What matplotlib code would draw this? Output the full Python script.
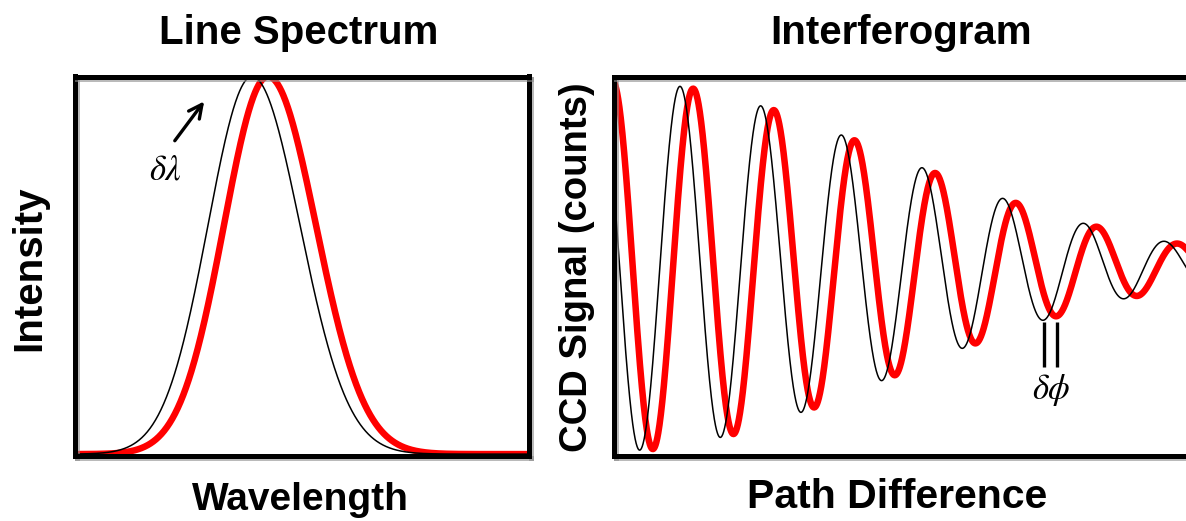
import numpy as np
import matplotlib.pyplot as plt
import matplotlib.patheffects as pe

plt.rcParams['font.family'] = ['Liberation Sans', 'DejaVu Sans']
plt.rcParams['mathtext.fontset'] = 'stix'

# line spectrum (arb. wavelength units, 0-100 across the box)
line_center = [39.05, 42.57]      # reference line, shifted line
line_width_blue = [9.68, 9.68]    # gaussian sigma on short-wavelength side
line_width_red = [10.56, 10.56]   # gaussian sigma on long-wavelength side

# interferogram (path difference in fringes)
fringe_offset = [-0.182, -0.019]  # position of first maximum
env_center = -0.012
env_sigma = 3.40

colors = ['black', 'red']
widths = [1.1, 4.7]

W, H = 1186, 521
fig = plt.figure(figsize=(W / 100, H / 100), dpi=100)

frame_fx = [pe.SimpleLineShadow(offset=(1.5, -1.5), shadow_color='0.55', alpha=0.6), pe.Normal()]


def setup(ax):
    ax.set_xticks([])
    ax.set_yticks([])
    for sp in ax.spines.values():
        sp.set_linewidth(3.6)
        sp.set_path_effects(frame_fx)


# --- left: line spectrum ---
ax1 = fig.add_axes([74.5 / W, 65 / H, 454.5 / W, 379.5 / H])
wl = np.linspace(0, 100, 1000)
# red drawn first so the thin black line sits on top
for i in [1, 0]:
    d = wl - line_center[i]
    s = np.where(d < 0, line_width_blue[i], line_width_red[i])
    inten = np.exp(-0.5 * (d / s) ** 2)
    ax1.plot(wl, inten, color=colors[i], lw=widths[i], solid_capstyle='butt')
ax1.set_xlim(0, 100)
ax1.set_ylim(-0.005, 1.0)
setup(ax1)

ax1.annotate('', xy=(28.9, 0.94), xytext=(21.7, 0.824),
             arrowprops=dict(arrowstyle='->', lw=2.4, color='black', mutation_scale=24))
ax1.text(20.0, 0.752, r'$\delta\lambda$', fontsize=25, ha='center', va='center')

# --- right: interferogram ---
ax2 = fig.add_axes([614 / W, 65 / H, 590 / W, 379.5 / H])
path = np.linspace(0, 7.4, 3000)
env = np.exp(-(path - env_center) ** 2 / (2 * env_sigma ** 2))
for i in [1, 0]:
    sig = env * np.cos(2 * np.pi * (path - fringe_offset[i]))
    ax2.plot(path, sig, color=colors[i], lw=widths[i])
ax2.set_xlim(0, 590 / 80.83)
ax2.set_ylim(-1.027, 1.024)
setup(ax2)

# phase shift marker under the 6th minimum
n = 5
for off in fringe_offset:
    xm = off + n + 0.5
    ax2.plot([xm, xm], [-0.303, -0.546], color='black', lw=2.4, solid_capstyle='butt')
ax2.text(fringe_offset[0] + n + 0.5 + 0.09, -0.67, r'$\delta\phi$', fontsize=25,
         ha='center', va='center')

# titles and axis labels
fig.text(299 / W, 1 - 44 / H, 'Line Spectrum', fontsize=29, fontweight='bold',
         ha='center', va='baseline')
fig.text(901 / W, 1 - 44 / H, 'Interferogram', fontsize=29, fontweight='bold',
         ha='center', va='baseline')
fig.text(300 / W, 1 - 510 / H, 'Wavelength', fontsize=28, fontweight='bold',
         ha='center', va='baseline')
fig.text(897 / W, 1 - 508 / H, 'Path Difference', fontsize=29.5, fontweight='bold',
         ha='center', va='baseline')
fig.text(29 / W, 1 - 268 / H, 'Intensity', fontsize=29, fontweight='bold',
         ha='center', va='center', rotation=90)
fig.text(577 / W, 1 - 267 / H, 'CCD Signal (counts)', fontsize=27.5, fontweight='bold',
         ha='center', va='center', rotation=90)

fig.savefig('out.png', dpi=100)
